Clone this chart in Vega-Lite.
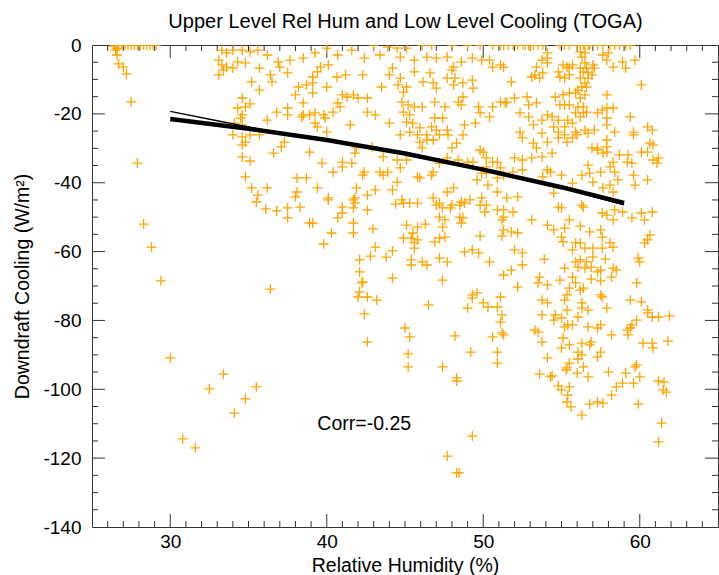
{
"$schema": "https://vega.github.io/schema/vega-lite/v6.json",
"width": 626, "height": 482,
"autosize": {"type": "none"},
"padding": {"left": 92, "top": 45, "right": 1, "bottom": 48},
"background": "white",
"config": {
  "view": {"stroke": "#333", "strokeWidth": 1},
  "axis": {"domain": false, "ticks": false, "tickSize": 0, "grid": false, "labelFont": "Liberation Sans", "labelFontSize": 19, "labelColor": "#000", "titleFont": "Liberation Sans", "titleFontSize": 19.5, "titleFontWeight": "normal", "titleColor": "#000"}
},
"datasets": {
"xt": [
{"rh":30,"kind":"major"},{"rh":40,"kind":"major"},{"rh":50,"kind":"major"},{"rh":60,"kind":"major"},
{"rh":26,"kind":"minor"},{"rh":27,"kind":"minor"},{"rh":28,"kind":"minor"},{"rh":29,"kind":"minor"},{"rh":31,"kind":"minor"},{"rh":32,"kind":"minor"},{"rh":33,"kind":"minor"},{"rh":34,"kind":"minor"},{"rh":35,"kind":"minor"},{"rh":36,"kind":"minor"},{"rh":37,"kind":"minor"},{"rh":38,"kind":"minor"},{"rh":39,"kind":"minor"},{"rh":41,"kind":"minor"},{"rh":42,"kind":"minor"},{"rh":43,"kind":"minor"},{"rh":44,"kind":"minor"},{"rh":45,"kind":"minor"},{"rh":46,"kind":"minor"},{"rh":47,"kind":"minor"},{"rh":48,"kind":"minor"},{"rh":49,"kind":"minor"},{"rh":51,"kind":"minor"},{"rh":52,"kind":"minor"},{"rh":53,"kind":"minor"},{"rh":54,"kind":"minor"},{"rh":55,"kind":"minor"},{"rh":56,"kind":"minor"},{"rh":57,"kind":"minor"},{"rh":58,"kind":"minor"},{"rh":59,"kind":"minor"},{"rh":61,"kind":"minor"},{"rh":62,"kind":"minor"},{"rh":63,"kind":"minor"},{"rh":64,"kind":"minor"}
],
"yt": [
{"cool":-20,"kind":"major"},{"cool":-40,"kind":"major"},{"cool":-60,"kind":"major"},{"cool":-80,"kind":"major"},{"cool":-100,"kind":"major"},{"cool":-120,"kind":"major"},
{"cool":-5,"kind":"minor"},{"cool":-10,"kind":"minor"},{"cool":-15,"kind":"minor"},{"cool":-25,"kind":"minor"},{"cool":-30,"kind":"minor"},{"cool":-35,"kind":"minor"},{"cool":-45,"kind":"minor"},{"cool":-50,"kind":"minor"},{"cool":-55,"kind":"minor"},{"cool":-65,"kind":"minor"},{"cool":-70,"kind":"minor"},{"cool":-75,"kind":"minor"},{"cool":-85,"kind":"minor"},{"cool":-90,"kind":"minor"},{"cool":-95,"kind":"minor"},{"cool":-105,"kind":"minor"},{"cool":-110,"kind":"minor"},{"cool":-115,"kind":"minor"},{"cool":-125,"kind":"minor"},{"cool":-130,"kind":"minor"},{"cool":-135,"kind":"minor"}
],
"fits": [
{"fit":"quadratic","rh":30,"cool":-21.5},{"fit":"quadratic","rh":35,"cool":-24.3},{"fit":"quadratic","rh":40,"cool":-27.6},{"fit":"quadratic","rh":45,"cool":-31.5},{"fit":"quadratic","rh":50,"cool":-36.2},{"fit":"quadratic","rh":55,"cool":-41.3},{"fit":"quadratic","rh":59,"cool":-45.9},
{"fit":"other","rh":30,"cool":-19.3},{"fit":"other","rh":33,"cool":-22.0},{"fit":"other","rh":36,"cool":-24.7},{"fit":"other","rh":40,"cool":-27.7},{"fit":"other","rh":45,"cool":-31.6},{"fit":"other","rh":50,"cool":-36.3},{"fit":"other","rh":55,"cool":-41.6},{"fit":"other","rh":59,"cool":-46.4}
],
"pts": [
{"rh":26.4,"cool":-0.3},{"rh":26.5,"cool":0},{"rh":26.7,"cool":0},{"rh":26.9,"cool":0},{"rh":27.1,"cool":0},{"rh":27.3,"cool":0},{"rh":27.5,"cool":0},{"rh":27.7,"cool":0},{"rh":27.9,"cool":0},{"rh":28.1,"cool":0},{"rh":28.3,"cool":0},{"rh":28.5,"cool":0},{"rh":28.7,"cool":0},{"rh":28.9,"cool":0},{"rh":29.1,"cool":0},{"rh":26.6,"cool":-1.0},{"rh":26.5,"cool":-1.5},{"rh":26.6,"cool":-2.9},{"rh":26.7,"cool":-5.5},{"rh":27.0,"cool":-6.4},{"rh":27.2,"cool":-8.4},{"rh":27.5,"cool":-16.5},{"rh":27.9,"cool":-34.3},
{"rh":33.3,"cool":-1.5},{"rh":33.6,"cool":-2.3},{"rh":34.0,"cool":-1.5},{"rh":34.6,"cool":-1.5},{"rh":35.1,"cool":-2.0},{"rh":35.6,"cool":-1.5},{"rh":36.2,"cool":-2.9},{"rh":33.1,"cool":-4.4},{"rh":33.3,"cool":-5.8},{"rh":33.6,"cool":-6.4},{"rh":34.0,"cool":-6.7},{"rh":34.3,"cool":-4.9},{"rh":34.8,"cool":-5.2},{"rh":33.1,"cool":-8.7},{"rh":33.4,"cool":-7.3},{"rh":35.7,"cool":-6.7},{"rh":36.9,"cool":-4.9},{"rh":37.0,"cool":-6.4},{"rh":37.65,"cool":-4.4},{"rh":38.5,"cool":-3.8},{"rh":37.5,"cool":-8.1},{"rh":36.4,"cool":-8.7},{"rh":36.5,"cool":-10.7},{"rh":35.2,"cool":-10.7},{"rh":35.7,"cool":-13.1},{"rh":38.2,"cool":-12.2},{"rh":38.7,"cool":-11.6},{"rh":38.0,"cool":-14.5},{"rh":38.5,"cool":-16.8},{"rh":34.6,"cool":-15.4},{"rh":34.3,"cool":-18.3},{"rh":34.8,"cool":-18.0},{"rh":35.1,"cool":-17.1},{"rh":34.6,"cool":-20.3},{"rh":34.5,"cool":-21.2},{"rh":34.1,"cool":-22.7},{"rh":34.6,"cool":-23.2},{"rh":36.8,"cool":-19.5},{"rh":37.5,"cool":-18.3},{"rh":37.5,"cool":-20.3},{"rh":36.2,"cool":-21.8},{"rh":38.4,"cool":-20.9},{"rh":38.9,"cool":-20.3},{"rh":34.0,"cool":-26.1},{"rh":34.6,"cool":-26.7},{"rh":35.1,"cool":-26.1},{"rh":35.7,"cool":-26.1},{"rh":34.8,"cool":-28.2},{"rh":34.6,"cool":-29.0},{"rh":37.3,"cool":-28.2},{"rh":37.1,"cool":-29.6},{"rh":36.6,"cool":-31.4},{"rh":38.9,"cool":-31.1},{"rh":34.6,"cool":-32.5},{"rh":35.1,"cool":-33.7},{"rh":34.8,"cool":-38.3},{"rh":35.2,"cool":-41.5},{"rh":36.2,"cool":-41.5},{"rh":35.6,"cool":-43.6},{"rh":35.5,"cool":-45.6},{"rh":36.1,"cool":-47.6},{"rh":36.8,"cool":-48.2},{"rh":37.5,"cool":-47.3},{"rh":38.3,"cool":-47.1},{"rh":38.1,"cool":-38.6},{"rh":38.7,"cool":-38.6},{"rh":38.1,"cool":-42.7},{"rh":38.0,"cool":-44.1},
{"rh":37.5,"cool":-50.2},{"rh":38.9,"cool":-51.7},{"rh":28.3,"cool":-52.0},{"rh":28.8,"cool":-58.7},{"rh":29.4,"cool":-68.5},{"rh":36.4,"cool":-70.9},{"rh":30.0,"cool":-90.9},{"rh":33.4,"cool":-95.6},
{"rh":32.5,"cool":-99.9},{"rh":35.5,"cool":-99.3},{"rh":34.8,"cool":-102.8},{"rh":34.1,"cool":-106.9},{"rh":30.8,"cool":-114.4},{"rh":31.6,"cool":-117.0},{"rh":48.3,"cool":-97.6},{"rh":49.3,"cool":-113.6},{"rh":47.7,"cool":-119.4},{"rh":48.3,"cool":-124.3},{"rh":48.45,"cool":-124.3},
{"rh":53.6,"cool":-95.6},{"rh":54.3,"cool":-96.4},{"rh":54.4,"cool":-96.1},{"rh":55.3,"cool":-94.4},{"rh":56.0,"cool":-95.3},{"rh":56.7,"cool":-96.4},{"rh":58.0,"cool":-95.0},{"rh":59.1,"cool":-95.3},{"rh":60.0,"cool":-96.4},{"rh":59.6,"cool":-98.2},{"rh":58.9,"cool":-98.2},{"rh":58.5,"cool":-99.3},{"rh":58.2,"cool":-101.7},{"rh":57.65,"cool":-104.0},{"rh":57.3,"cool":-103.7},{"rh":56.8,"cool":-104.3},{"rh":56.3,"cool":-107.5},{"rh":55.6,"cool":-105.1},{"rh":55.35,"cool":-103.7},{"rh":55.4,"cool":-101.7},{"rh":55.0,"cool":-100.2},{"rh":55.5,"cool":-99.3},{"rh":54.8,"cool":-99.0},{"rh":59.9,"cool":-104.3},{"rh":61.2,"cool":-97.6},{"rh":61.55,"cool":-97.9},{"rh":61.5,"cool":-100.2},{"rh":61.7,"cool":-100.8},{"rh":61.4,"cool":-109.8},{"rh":61.2,"cool":-115.3},
{"rh":51.3,"cool":-47.9},{"rh":51.9,"cool":-48.5},{"rh":53.1,"cool":-50.8},{"rh":54.1,"cool":-52.3},{"rh":54.5,"cool":-53.7},{"rh":55.0,"cool":-47.3},{"rh":54.8,"cool":-47.1},{"rh":56.4,"cool":-47.1},{"rh":55.5,"cool":-50.8},{"rh":56.2,"cool":-52.6},{"rh":55.2,"cool":-53.2},{"rh":55.0,"cool":-55.8},{"rh":55.1,"cool":-57.2},{"rh":51.3,"cool":-53.7},{"rh":51.8,"cool":-54.3},{"rh":52.2,"cool":-54.6},{"rh":52.0,"cool":-59.5},{"rh":52.5,"cool":-60.4},{"rh":53.9,"cool":-62.2},{"rh":52.5,"cool":-63.9},{"rh":51.8,"cool":-65.4},{"rh":51.3,"cool":-66.8},{"rh":52.2,"cool":-70.3},{"rh":53.6,"cool":-67.4},{"rh":53.5,"cool":-69.1},{"rh":54.1,"cool":-69.7},{"rh":54.9,"cool":-68.3},{"rh":55.2,"cool":-64.8},{"rh":55.9,"cool":-57.5},{"rh":56.2,"cool":-57.5},{"rh":56.5,"cool":-59.0},{"rh":55.7,"cool":-59.5},{"rh":56.8,"cool":-54.3},{"rh":57.5,"cool":-53.7},{"rh":57.6,"cool":-55.8},{"rh":58.1,"cool":-57.5},{"rh":58.3,"cool":-58.7},{"rh":57.0,"cool":-59.0},{"rh":57.6,"cool":-59.0},{"rh":55.9,"cool":-63.0},{"rh":56.2,"cool":-62.4},{"rh":56.6,"cool":-63.0},{"rh":57.0,"cool":-61.6},{"rh":57.8,"cool":-62.2},{"rh":56.05,"cool":-64.5},{"rh":56.5,"cool":-64.8},{"rh":56.9,"cool":-64.5},{"rh":57.3,"cool":-65.9},{"rh":57.5,"cool":-65.4},{"rh":58.3,"cool":-64.8},{"rh":58.5,"cool":-65.4},{"rh":58.2,"cool":-67.4},{"rh":56.9,"cool":-68.0},{"rh":57.5,"cool":-68.5},{"rh":55.7,"cool":-67.4},{"rh":55.9,"cool":-69.1},{"rh":55.5,"cool":-70.6},{"rh":56.4,"cool":-70.6},{"rh":56.2,"cool":-71.2},{"rh":55.35,"cool":-72.6},{"rh":57.5,"cool":-72.6},{"rh":57.6,"cool":-73.2},{"rh":55.2,"cool":-74.1},{"rh":56.3,"cool":-74.9},{"rh":56.3,"cool":-76.4},{"rh":56.7,"cool":-77.0},{"rh":55.35,"cool":-77.0},{"rh":53.75,"cool":-74.1},{"rh":54.1,"cool":-74.9},{"rh":57.9,"cool":-76.4},{"rh":53.75,"cool":-78.4},{"rh":54.6,"cool":-78.4},{"rh":55.0,"cool":-79.3},{"rh":56.05,"cool":-79.0},{"rh":54.5,"cool":-79.9},{"rh":55.4,"cool":-81.3},{"rh":55.2,"cool":-81.9},{"rh":55.7,"cool":-81.3},{"rh":56.7,"cool":-81.9},{"rh":57.3,"cool":-82.2},{"rh":57.5,"cool":-81.3},{"rh":53.3,"cool":-82.8},{"rh":53.5,"cool":-83.4},{"rh":51.2,"cool":-83.6},{"rh":51.3,"cool":-84.2},{"rh":53.75,"cool":-86.3},{"rh":55.1,"cool":-85.1},{"rh":55.5,"cool":-87.1},{"rh":56.3,"cool":-86.6},{"rh":56.9,"cool":-86.3},{"rh":56.8,"cool":-87.1},{"rh":55.0,"cool":-88.0},{"rh":56.05,"cool":-89.2},{"rh":56.3,"cool":-90.0},{"rh":56.05,"cool":-91.2},{"rh":57.5,"cool":-89.2},{"rh":57.3,"cool":-90.6},{"rh":54.1,"cool":-90.9},{"rh":55.5,"cool":-92.4},{"rh":55.35,"cool":-93.8},{"rh":56.4,"cool":-93.5},{"rh":59.8,"cool":-92.9},{"rh":59.7,"cool":-93.5},{"rh":59.4,"cool":-82.2},{"rh":59.2,"cool":-82.8},{"rh":59.5,"cool":-81.3},{"rh":59.8,"cool":-79.9},{"rh":59.25,"cool":-84.2},{"rh":58.2,"cool":-84.2},{"rh":60.2,"cool":-86.6},{"rh":60.8,"cool":-86.6},{"rh":60.85,"cool":-88.0},{"rh":61.8,"cool":-86.0},{"rh":59.4,"cool":-74.1},{"rh":60.1,"cool":-74.6},{"rh":60.5,"cool":-77.0},{"rh":60.5,"cool":-77.8},{"rh":60.8,"cool":-79.0},{"rh":61.2,"cool":-79.0},{"rh":61.9,"cool":-78.7},{"rh":59.9,"cool":-61.9},{"rh":60.0,"cool":-63.0},{"rh":59.8,"cool":-69.1},{"rh":60.5,"cool":-56.6},{"rh":60.65,"cool":-55.2},{"rh":60.3,"cool":-57.5},{"rh":59.5,"cool":-50.2},{"rh":60.1,"cool":-48.8},{"rh":60.8,"cool":-48.5},{"rh":60.3,"cool":-50.8},{"rh":57.6,"cool":-48.8},{"rh":57.9,"cool":-49.4},{"rh":58.3,"cool":-50.8},{"rh":58.4,"cool":-47.9},{"rh":58.9,"cool":-48.5},
{"rh":40.1,"cool":-45.0},{"rh":41.0,"cool":-47.1},{"rh":41.0,"cool":-48.8},{"rh":41.7,"cool":-47.3},{"rh":42.6,"cool":-47.9},{"rh":41.7,"cool":-45.0},{"rh":40.7,"cool":-50.2},{"rh":39.1,"cool":-51.7},{"rh":41.7,"cool":-51.7},{"rh":40.3,"cool":-54.6},{"rh":41.7,"cool":-54.6},{"rh":42.95,"cool":-53.4},{"rh":39.8,"cool":-57.8},{"rh":43.1,"cool":-58.7},{"rh":42.8,"cool":-61.3},{"rh":42.1,"cool":-62.4},{"rh":43.8,"cool":-61.6},{"rh":44.2,"cool":-59.8},{"rh":42.1,"cool":-65.9},{"rh":42.3,"cool":-68.8},{"rh":42.25,"cool":-69.1},{"rh":44.2,"cool":-67.7},{"rh":42.1,"cool":-71.7},{"rh":42.0,"cool":-73.2},{"rh":42.6,"cool":-73.2},{"rh":43.2,"cool":-74.1},{"rh":42.4,"cool":-78.1},{"rh":42.6,"cool":-86.3},{"rh":44.4,"cool":-46.2},{"rh":44.9,"cool":-45.9},{"rh":45.3,"cool":-45.9},{"rh":45.8,"cool":-45.9},{"rh":45.1,"cool":-52.3},{"rh":45.8,"cool":-52.9},{"rh":46.3,"cool":-52.0},{"rh":45.5,"cool":-54.6},{"rh":44.9,"cool":-56.1},{"rh":45.4,"cool":-56.1},{"rh":45.6,"cool":-57.5},{"rh":45.8,"cool":-56.6},{"rh":45.6,"cool":-59.0},{"rh":46.9,"cool":-57.2},{"rh":45.4,"cool":-62.4},{"rh":45.4,"cool":-63.9},{"rh":46.1,"cool":-63.0},{"rh":46.4,"cool":-63.9},{"rh":47.2,"cool":-61.9},{"rh":47.7,"cool":-63.0},{"rh":47.4,"cool":-68.3},{"rh":46.5,"cool":-75.5},{"rh":45.0,"cool":-82.2},{"rh":45.3,"cool":-84.8},{"rh":45.2,"cool":-89.7},{"rh":45.2,"cool":-93.5},{"rh":47.4,"cool":-93.5},{"rh":48.2,"cool":-84.5},{"rh":49.2,"cool":-89.2},{"rh":47.0,"cool":-46.5},{"rh":47.4,"cool":-47.3},{"rh":48.0,"cool":-46.5},{"rh":48.5,"cool":-46.5},{"rh":48.8,"cool":-45.9},{"rh":47.2,"cool":-50.0},{"rh":47.55,"cool":-50.8},{"rh":47.4,"cool":-52.9},{"rh":48.5,"cool":-50.0},{"rh":48.7,"cool":-50.2},{"rh":48.6,"cool":-51.7},{"rh":47.55,"cool":-55.8},{"rh":47.2,"cool":-56.1},{"rh":49.8,"cool":-55.5},{"rh":49.3,"cool":-59.5},{"rh":49.7,"cool":-60.4},{"rh":48.8,"cool":-60.1},{"rh":50.4,"cool":-63.0},{"rh":49.3,"cool":-72.6},{"rh":49.6,"cool":-72.0},{"rh":49.3,"cool":-73.5},{"rh":49.0,"cool":-76.4},{"rh":50.0,"cool":-74.9},{"rh":50.3,"cool":-76.1},{"rh":50.9,"cool":-76.1},{"rh":51.1,"cool":-73.2},{"rh":51.2,"cool":-78.4},{"rh":51.1,"cool":-80.5},{"rh":50.6,"cool":-84.8},{"rh":50.9,"cool":-89.2},{"rh":50.9,"cool":-92.4},{"rh":49.8,"cool":-46.5},{"rh":50.2,"cool":-46.5},{"rh":50.1,"cool":-48.5},{"rh":50.9,"cool":-47.9},{"rh":51.3,"cool":-50.0},{"rh":51.2,"cool":-50.8},{"rh":51.2,"cool":-55.5},{"rh":48.3,"cool":-96.7},
{"rh":39.25,"cool":-2.3},{"rh":40.0,"cool":-0.9},{"rh":40.7,"cool":-2.9},{"rh":41.6,"cool":-1.5},{"rh":42.4,"cool":-3.8},{"rh":43.4,"cool":-2.9},{"rh":43.9,"cool":-0.6},{"rh":44.5,"cool":-0.9},{"rh":44.7,"cool":-3.5},{"rh":45.1,"cool":-0.9},{"rh":46.1,"cool":0},{"rh":46.7,"cool":0},{"rh":48.0,"cool":0},{"rh":49.0,"cool":0},{"rh":49.8,"cool":0},{"rh":50.6,"cool":0},{"rh":51.1,"cool":0},{"rh":45.6,"cool":-4.4},{"rh":46.4,"cool":-3.5},{"rh":47.0,"cool":-3.8},{"rh":47.7,"cool":-3.5},{"rh":48.1,"cool":-6.4},{"rh":48.6,"cool":-4.9},{"rh":49.3,"cool":-3.8},{"rh":49.9,"cool":-4.4},{"rh":50.4,"cool":-4.4},{"rh":51.1,"cool":-5.8},{"rh":51.3,"cool":-6.4},{"rh":50.6,"cool":-6.4},{"rh":39.6,"cool":-6.4},{"rh":40.1,"cool":-5.8},{"rh":39.4,"cool":-7.8},{"rh":39.1,"cool":-9.3},{"rh":39.1,"cool":-11.0},{"rh":39.1,"cool":-13.9},{"rh":40.0,"cool":-12.2},{"rh":40.65,"cool":-9.3},{"rh":41.2,"cool":-8.7},{"rh":42.3,"cool":-8.7},{"rh":43.5,"cool":-12.2},{"rh":44.2,"cool":-6.7},{"rh":44.0,"cool":-8.7},{"rh":44.7,"cool":-9.6},{"rh":44.55,"cool":-11.6},{"rh":45.1,"cool":-12.2},{"rh":44.9,"cool":-13.7},{"rh":45.6,"cool":-7.8},{"rh":46.15,"cool":-10.7},{"rh":46.6,"cool":-8.1},{"rh":46.8,"cool":-11.0},{"rh":47.0,"cool":-12.5},{"rh":47.7,"cool":-9.6},{"rh":48.0,"cool":-7.3},{"rh":48.2,"cool":-9.6},{"rh":48.1,"cool":-11.6},{"rh":48.7,"cool":-11.0},{"rh":49.3,"cool":-10.2},{"rh":49.35,"cool":-12.5},{"rh":48.7,"cool":-15.1},{"rh":48.4,"cool":-16.6},{"rh":48.6,"cool":-17.4},{"rh":41.0,"cool":-14.5},{"rh":41.3,"cool":-15.1},{"rh":41.7,"cool":-14.5},{"rh":42.0,"cool":-15.4},{"rh":42.6,"cool":-15.4},{"rh":40.7,"cool":-16.8},{"rh":40.85,"cool":-18.0},{"rh":38.5,"cool":-20.3},{"rh":39.25,"cool":-19.7},{"rh":39.8,"cool":-20.3},{"rh":39.9,"cool":-21.2},{"rh":40.4,"cool":-19.5},{"rh":41.5,"cool":-23.2},{"rh":39.25,"cool":-22.7},{"rh":39.4,"cool":-23.8},{"rh":40.0,"cool":-25.3},{"rh":42.6,"cool":-19.5},{"rh":43.1,"cool":-20.3},{"rh":44.0,"cool":-22.7},{"rh":44.8,"cool":-16.6},{"rh":45.2,"cool":-17.4},{"rh":45.6,"cool":-18.0},{"rh":46.1,"cool":-18.0},{"rh":44.9,"cool":-19.5},{"rh":45.3,"cool":-20.3},{"rh":45.1,"cool":-22.4},{"rh":45.5,"cool":-22.7},{"rh":45.95,"cool":-24.1},{"rh":45.3,"cool":-25.3},{"rh":45.8,"cool":-26.1},{"rh":44.7,"cool":-26.1},{"rh":46.4,"cool":-26.1},{"rh":46.7,"cool":-23.8},{"rh":47.0,"cool":-24.7},{"rh":46.9,"cool":-21.2},{"rh":47.4,"cool":-21.2},{"rh":47.7,"cool":-24.7},{"rh":47.2,"cool":-26.1},{"rh":47.75,"cool":-26.1},{"rh":46.8,"cool":-27.6},{"rh":46.4,"cool":-27.6},{"rh":45.95,"cool":-28.2},{"rh":46.1,"cool":-29.9},{"rh":46.9,"cool":-16.6},{"rh":47.55,"cool":-18.0},{"rh":48.8,"cool":-23.2},{"rh":49.5,"cool":-22.7},{"rh":49.8,"cool":-19.7},{"rh":50.4,"cool":-20.9},{"rh":49.7,"cool":-18.0},{"rh":50.6,"cool":-18.0},{"rh":51.1,"cool":-16.6},{"rh":51.5,"cool":-16.6},{"rh":48.7,"cool":-26.1},{"rh":48.3,"cool":-28.5},{"rh":48.0,"cool":-29.9},{"rh":49.8,"cool":-30.5},{"rh":50.0,"cool":-31.1},{"rh":50.2,"cool":-32.8},{"rh":50.9,"cool":-34.0},{"rh":50.6,"cool":-34.0},{"rh":49.35,"cool":-34.0},{"rh":49.0,"cool":-34.0},{"rh":48.4,"cool":-33.4},{"rh":47.7,"cool":-32.8},{"rh":47.2,"cool":-34.3},{"rh":46.8,"cool":-36.9},{"rh":46.7,"cool":-37.8},{"rh":45.8,"cool":-38.3},{"rh":45.95,"cool":-38.6},{"rh":44.7,"cool":-35.7},{"rh":45.1,"cool":-33.4},{"rh":44.5,"cool":-33.4},{"rh":43.6,"cool":-32.5},{"rh":42.9,"cool":-29.6},{"rh":41.9,"cool":-29.9},{"rh":41.8,"cool":-31.4},{"rh":41.0,"cool":-34.0},{"rh":41.6,"cool":-34.3},{"rh":42.4,"cool":-36.9},{"rh":42.3,"cool":-37.8},{"rh":43.4,"cool":-36.9},{"rh":43.9,"cool":-36.9},{"rh":43.6,"cool":-37.8},{"rh":44.5,"cool":-39.8},{"rh":44.2,"cool":-42.1},{"rh":43.1,"cool":-42.1},{"rh":42.6,"cool":-43.6},{"rh":41.9,"cool":-41.5},{"rh":41.8,"cool":-44.4},{"rh":41.8,"cool":-45.9},{"rh":44.8,"cool":-45.0},{"rh":46.8,"cool":-44.4},{"rh":47.2,"cool":-45.9},{"rh":47.9,"cool":-47.3},{"rh":48.6,"cool":-45.6},{"rh":49.15,"cool":-45.0},{"rh":49.9,"cool":-44.4},{"rh":50.9,"cool":-42.7},{"rh":50.3,"cool":-40.7},{"rh":49.6,"cool":-39.2},{"rh":48.1,"cool":-41.5},{"rh":47.7,"cool":-42.7},{"rh":40.1,"cool":-44.4},{"rh":39.4,"cool":-41.5},{"rh":40.4,"cool":-36.9},{"rh":41.0,"cool":-35.4},{"rh":39.7,"cool":-34.3},{"rh":50.2,"cool":-35.4},{"rh":50.2,"cool":-37.2},{"rh":49.9,"cool":-37.2},{"rh":51.1,"cool":-35.7},{"rh":51.3,"cool":-37.8},{"rh":50.9,"cool":-38.6},
{"rh":51.8,"cool":-10.7},{"rh":51.4,"cool":-16.8},{"rh":52.0,"cool":-15.4},{"rh":52.35,"cool":-19.7},{"rh":52.9,"cool":-20.9},{"rh":52.5,"cool":-27.0},{"rh":52.35,"cool":-25.3},{"rh":52.0,"cool":-32.8},{"rh":52.5,"cool":-33.4},{"rh":53.1,"cool":-32.8},{"rh":51.9,"cool":-36.9},{"rh":52.5,"cool":-36.3},{"rh":51.5,"cool":-44.4},{"rh":52.2,"cool":-44.1},{"rh":53.4,"cool":-16.8},{"rh":52.9,"cool":-17.4},{"rh":52.8,"cool":-15.1},{"rh":53.2,"cool":-23.2},{"rh":53.75,"cool":-25.6},{"rh":53.2,"cool":-28.5},{"rh":53.4,"cool":-29.9},{"rh":54.1,"cool":-28.2},{"rh":53.75,"cool":-32.5},{"rh":54.4,"cool":-31.4},{"rh":54.1,"cool":-36.3},{"rh":54.3,"cool":-36.9},{"rh":53.8,"cool":-38.3},{"rh":55.0,"cool":-37.8},{"rh":54.5,"cool":-43.0},{"rh":56.3,"cool":-46.5},{"rh":55.7,"cool":-40.1},{"rh":56.3,"cool":-37.8},{"rh":56.7,"cool":-34.9},{"rh":56.8,"cool":-37.2},{"rh":57.5,"cool":-36.9},{"rh":57.0,"cool":-39.8},{"rh":57.65,"cool":-41.5},{"rh":58.1,"cool":-40.7},{"rh":58.3,"cool":-42.7},{"rh":58.6,"cool":-39.2},{"rh":58.4,"cool":-36.9},{"rh":58.1,"cool":-35.4},{"rh":58.3,"cool":-34.0},{"rh":57.65,"cool":-31.4},{"rh":57.3,"cool":-30.5},{"rh":57.9,"cool":-31.1},{"rh":58.7,"cool":-31.9},{"rh":59.25,"cool":-31.9},{"rh":59.2,"cool":-34.0},{"rh":59.5,"cool":-34.3},{"rh":59.6,"cool":-37.8},{"rh":60.5,"cool":-39.2},{"rh":59.7,"cool":-40.7},{"rh":60.85,"cool":-33.4},{"rh":61.2,"cool":-32.8},{"rh":61.1,"cool":-34.3},{"rh":60.5,"cool":-31.1},{"rh":60.65,"cool":-28.5},{"rh":60.85,"cool":-29.0},{"rh":60.1,"cool":-31.1},{"rh":59.6,"cool":-26.1},{"rh":59.6,"cool":-25.3},{"rh":60.5,"cool":-23.8},{"rh":60.8,"cool":-24.7},{"rh":59.4,"cool":-20.9},{"rh":57.9,"cool":-14.5},{"rh":57.6,"cool":-18.9},{"rh":57.9,"cool":-18.3},{"rh":58.3,"cool":-18.3},{"rh":57.3,"cool":-19.7},{"rh":57.9,"cool":-21.2},{"rh":58.4,"cool":-25.3},{"rh":57.9,"cool":-27.6},{"rh":57.9,"cool":-29.6},{"rh":57.3,"cool":-29.9},{"rh":56.95,"cool":-29.9},{"rh":56.7,"cool":-25.6},{"rh":57.1,"cool":-24.7},{"rh":56.5,"cool":-24.7},{"rh":56.0,"cool":-26.1},{"rh":55.9,"cool":-25.3},{"rh":55.7,"cool":-27.0},{"rh":55.2,"cool":-26.1},{"rh":54.8,"cool":-27.0},{"rh":55.35,"cool":-28.2},{"rh":54.8,"cool":-25.3},{"rh":55.2,"cool":-23.8},{"rh":55.7,"cool":-22.7},{"rh":54.8,"cool":-21.8},{"rh":54.4,"cool":-20.9},{"rh":54.1,"cool":-20.3},{"rh":53.75,"cool":-21.8},{"rh":54.5,"cool":-23.8},{"rh":55.4,"cool":-21.8},{"rh":55.9,"cool":-19.7},{"rh":56.2,"cool":-20.9},{"rh":56.4,"cool":-19.7},{"rh":56.6,"cool":-19.5},{"rh":56.05,"cool":-18.0},{"rh":56.4,"cool":-18.0},{"rh":55.5,"cool":-17.4},{"rh":55.2,"cool":-17.4},{"rh":54.9,"cool":-17.4},{"rh":54.6,"cool":-15.1},{"rh":55.1,"cool":-14.5},{"rh":55.5,"cool":-13.9},{"rh":55.9,"cool":-13.9},{"rh":56.2,"cool":-15.4},{"rh":56.5,"cool":-14.5},{"rh":56.05,"cool":-13.1},{"rh":56.3,"cool":-12.2},{"rh":56.5,"cool":-11.0},{"rh":56.7,"cool":-9.6},{"rh":56.2,"cool":-9.6},{"rh":56.4,"cool":-7.8},{"rh":56.7,"cool":-8.1},{"rh":56.6,"cool":-6.7},{"rh":56.2,"cool":-6.7},{"rh":56.5,"cool":-5.2},{"rh":56.3,"cool":-3.5},{"rh":56.5,"cool":-2.3},{"rh":56.2,"cool":-2.0},{"rh":57.1,"cool":-6.7},{"rh":57.0,"cool":-5.8},{"rh":56.95,"cool":-8.7},{"rh":56.6,"cool":-12.2},{"rh":55.5,"cool":-6.7},{"rh":55.35,"cool":-6.4},{"rh":55.7,"cool":-5.8},{"rh":55.1,"cool":-5.8},{"rh":54.8,"cool":-7.8},{"rh":54.9,"cool":-9.3},{"rh":55.2,"cool":-9.6},{"rh":55.5,"cool":-8.7},{"rh":54.1,"cool":-5.2},{"rh":54.1,"cool":-3.8},{"rh":54.1,"cool":-2.3},{"rh":53.75,"cool":-4.4},{"rh":53.4,"cool":-6.4},{"rh":53.3,"cool":-8.7},{"rh":53.1,"cool":-9.3},{"rh":53.6,"cool":-9.6},{"rh":53.8,"cool":-8.1},{"rh":57.65,"cool":-2.9},{"rh":57.9,"cool":-4.4},{"rh":58.3,"cool":-6.4},{"rh":58.9,"cool":-4.9},{"rh":59.1,"cool":-6.7},{"rh":59.7,"cool":-4.4},{"rh":58.0,"cool":-2.3},{"rh":60.1,"cool":-11.6},{"rh":57.9,"cool":-23.2},
{"rh":51.3,"cool":0},{"rh":51.6,"cool":0},{"rh":51.9,"cool":0},{"rh":52.2,"cool":0},{"rh":52.55,"cool":0},{"rh":52.7,"cool":0},{"rh":52.9,"cool":0},{"rh":53.0,"cool":0},{"rh":53.2,"cool":0},{"rh":53.5,"cool":0},{"rh":53.8,"cool":0},{"rh":54.9,"cool":0},{"rh":55.2,"cool":0},{"rh":55.5,"cool":0},{"rh":56.0,"cool":0},{"rh":56.2,"cool":0},{"rh":56.4,"cool":0},{"rh":56.5,"cool":0},{"rh":56.7,"cool":0},{"rh":56.8,"cool":0},{"rh":57.3,"cool":0},{"rh":57.65,"cool":0},{"rh":58.1,"cool":0},{"rh":58.4,"cool":0},{"rh":58.7,"cool":0},{"rh":59.1,"cool":0},{"rh":59.4,"cool":0},{"rh":43.0,"cool":0}
]
},
"layer": [
{
  "data": {"name": "xt"},
  "mark": {"type": "tick", "orient": "vertical", "thickness": 1, "color": "#333", "opacity": 1, "clip": true},
  "encoding": {
    "x": {"field": "rh", "type": "quantitative", "scale": {"domain": [25, 65], "nice": false, "zero": false}, "axis": null},
    "y": {"datum": -140, "type": "quantitative", "scale": {"domain": [-140, 0], "nice": false, "zero": false}, "axis": null},
    "size": {"field": "kind", "type": "nominal", "scale": {"domain": ["major", "minor"], "range": [26, 12]}, "legend": null}
  }
},
{
  "data": {"name": "xt"},
  "mark": {"type": "tick", "orient": "vertical", "thickness": 1, "color": "#333", "opacity": 1, "clip": true},
  "encoding": {
    "x": {"field": "rh", "type": "quantitative", "scale": {"domain": [25, 65], "nice": false, "zero": false}, "axis": null},
    "y": {"datum": 0, "type": "quantitative", "scale": {"domain": [-140, 0], "nice": false, "zero": false}, "axis": null},
    "size": {"field": "kind", "type": "nominal", "scale": {"domain": ["major", "minor"], "range": [26, 12]}, "legend": null}
  }
},
{
  "data": {"name": "yt"},
  "mark": {"type": "tick", "orient": "horizontal", "thickness": 1, "color": "#333", "opacity": 1, "clip": true},
  "encoding": {
    "y": {"field": "cool", "type": "quantitative", "scale": {"domain": [-140, 0], "nice": false, "zero": false}, "axis": null},
    "x": {"datum": 25, "type": "quantitative", "scale": {"domain": [25, 65], "nice": false, "zero": false}, "axis": null},
    "size": {"field": "kind", "type": "nominal", "scale": {"domain": ["major", "minor"], "range": [26, 12]}, "legend": null}
  }
},
{
  "data": {"name": "yt"},
  "mark": {"type": "tick", "orient": "horizontal", "thickness": 1, "color": "#333", "opacity": 1, "clip": true},
  "encoding": {
    "y": {"field": "cool", "type": "quantitative", "scale": {"domain": [-140, 0], "nice": false, "zero": false}, "axis": null},
    "x": {"datum": 65, "type": "quantitative", "scale": {"domain": [25, 65], "nice": false, "zero": false}, "axis": null},
    "size": {"field": "kind", "type": "nominal", "scale": {"domain": ["major", "minor"], "range": [26, 12]}, "legend": null}
  }
},
{
  "data": {"name": "pts"},
  "mark": {"type": "point", "shape": "M-1,0L1,0M0,-1L0,1", "filled": false, "stroke": "#ffa500", "strokeWidth": 1.3, "size": 100, "opacity": 1, "clip": true},
  "encoding": {
    "x": {"field": "rh", "type": "quantitative", "scale": {"domain": [25, 65], "nice": false, "zero": false},
      "axis": {"orient": "bottom", "values": [30, 40, 50, 60], "labelPadding": 5, "labelExpr": "'' + datum.value", "title": "Relative Humidity (%)", "titleBaseline": "alphabetic", "titleY": 44}},
    "y": {"field": "cool", "type": "quantitative", "scale": {"domain": [-140, 0], "nice": false, "zero": false},
      "axis": {"orient": "left", "values": [-20, -40, -60, -80, -100, -120, 0, -140], "labelPadding": 11, "labelExpr": "'' + datum.value", "title": "Downdraft Cooling (W/m²)", "titleX": -70, "titleY": 241, "titleBaseline": "middle", "titleAlign": "center", "titleAngle": -90}}
  }
},
{
  "data": {"name": "fits"},
  "transform": [{"filter": "datum.fit == 'quadratic'"}],
  "mark": {"type": "line", "color": "#000", "strokeWidth": 4.5},
  "encoding": {
    "x": {"field": "rh", "type": "quantitative", "scale": {"domain": [25, 65], "nice": false, "zero": false},
      "axis": {"orient": "top", "values": [30], "labels": false, "title": "Upper Level Rel Hum and Low Level Cooling (TOGA)", "titleFontSize": 20, "titleBaseline": "alphabetic", "titleY": -18, "titleX": 313, "titleAlign": "center"}},
    "y": {"field": "cool", "type": "quantitative", "scale": {"domain": [-140, 0], "nice": false, "zero": false}, "axis": null}
  }
},
{
  "data": {"name": "fits"},
  "transform": [{"filter": "datum.fit == 'other'"}],
  "mark": {"type": "line", "color": "#000", "strokeWidth": 1.3},
  "encoding": {
    "x": {"field": "rh", "type": "quantitative", "scale": {"domain": [25, 65], "nice": false, "zero": false}, "axis": null},
    "y": {"field": "cool", "type": "quantitative", "scale": {"domain": [-140, 0], "nice": false, "zero": false}, "axis": null}
  }
},
{
  "data": {"values": [{"rh": 39.4, "cool": -110, "label": "Corr=-0.25"}]},
  "mark": {"type": "text", "align": "left", "baseline": "middle", "font": "Liberation Sans", "fontSize": 19.5, "color": "#000"},
  "encoding": {
    "text": {"field": "label"},
    "x": {"field": "rh", "type": "quantitative", "scale": {"domain": [25, 65], "nice": false, "zero": false}, "axis": null},
    "y": {"field": "cool", "type": "quantitative", "scale": {"domain": [-140, 0], "nice": false, "zero": false}, "axis": null}
  }
}
],
"resolve": {"axis": {"x": "independent", "y": "independent"}}
}
